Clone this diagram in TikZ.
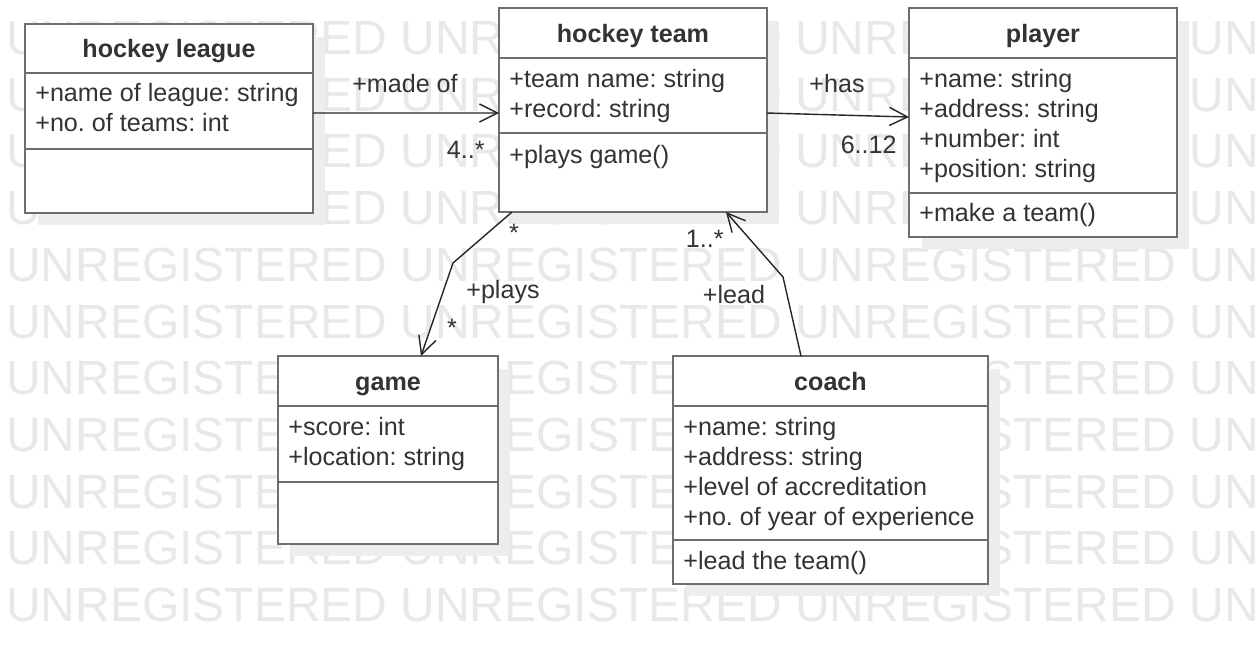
\documentclass[tikz,border=0pt]{standalone}
\usepackage{fontspec}
\setmainfont{Liberation Sans}
\usetikzlibrary{arrows.meta,shadows}
\definecolor{boxgray}{HTML}{6E6E6E}
\definecolor{textgray}{HTML}{333333}
\definecolor{shadowgray}{HTML}{EDEDED}
\definecolor{markgray}{HTML}{E8E8E8}
\frenchspacing
\tikzset{
	classbox/.style  = {draw=boxgray, line width=0.055cm, fill=white, rectangle,
		inner sep=0pt, outer sep=0pt,
		drop shadow={shadow xshift=0.25cm, shadow yshift=-0.25cm, fill=shadowgray, opacity=1}},
	divider/.style   = {draw=boxgray, line width=0.05cm},
	classname/.style = {anchor=base, inner sep=0pt, text=textgray,
		font=\fontsize{14.3}{17.07}\selectfont\bfseries},
	members/.style   = {anchor=base west, inner sep=0pt, align=left, text=textgray,
		font=\fontsize{14.3}{17.07}\selectfont},
	rolelabel/.style = {inner sep=0pt, text=textgray, font=\fontsize{14.3}{17.07}\selectfont},
	assoc/.style     = {->, line width=0.028cm, draw=black!85},
	watermark/.style = {anchor=west, inner sep=0pt, text=markgray,
		font=\fontsize{27.3}{30}\selectfont}
}
\newcommand{\wmtext}{UNREGISTERED UNREGISTERED UNREGISTERED UNREGISTERED}

\begin{document}
\begin{tikzpicture}[x=0.02cm, y=-0.02cm, >={Straight Barb[length=0.36cm,width=0.36cm]}]
	\useasboundingbox (0,0) rectangle (1258,647);
	\clip (0,0) rectangle (1258,647);
	\fill[white] (0,0) rectangle (1258,647);
	
	% watermark rows
	\draw
	node at (6,38) [watermark] (wm1) {\wmtext}
	node at (6,94.7) [watermark] (wm2) {\wmtext}
	node at (6,151.4) [watermark] (wm3) {\wmtext}
	node at (6,208.1) [watermark] (wm4) {\wmtext}
	node at (6,264.8) [watermark] (wm5) {\wmtext}
	node at (6,321.5) [watermark] (wm6) {\wmtext}
	node at (6,378.2) [watermark] (wm7) {\wmtext}
	node at (6,434.9) [watermark] (wm8) {\wmtext}
	node at (6,491.6) [watermark] (wm9) {\wmtext}
	node at (6,548.3) [watermark] (wm10) {\wmtext}
	node at (6,605) [watermark] (wm11) {\wmtext};
	
	% classes
	\draw
	node at (169,118.5) [classbox, minimum width=5.76cm, minimum height=3.78cm] (league) {}
	node at (633,110) [classbox, minimum width=5.36cm, minimum height=4.08cm] (team) {}
	node at (1043,122.5) [classbox, minimum width=5.36cm, minimum height=4.58cm] (player) {}
	node at (388,450) [classbox, minimum width=4.40cm, minimum height=3.76cm] (game) {}
	node at (830.5,470) [classbox, minimum width=6.30cm, minimum height=4.56cm] (coach) {};
	
	\draw[divider] (league.west |- 0,73) -- (league.east |- 0,73);
	\draw[divider] (league.west |- 0,149) -- (league.east |- 0,149);
	\draw[divider] (team.west |- 0,58) -- (team.east |- 0,58);
	\draw[divider] (team.west |- 0,133) -- (team.east |- 0,133);
	\draw[divider] (player.west |- 0,58) -- (player.east |- 0,58);
	\draw[divider] (player.west |- 0,193) -- (player.east |- 0,193);
	\draw[divider] (game.west |- 0,406) -- (game.east |- 0,406);
	\draw[divider] (game.west |- 0,482) -- (game.east |- 0,482);
	\draw[divider] (coach.west |- 0,406) -- (coach.east |- 0,406);
	\draw[divider] (coach.west |- 0,540) -- (coach.east |- 0,540);
	
	% texts (base anchor = last line)
	\draw
	node at (169,57) [classname] (leaguename) {hockey league}
	node at (35,131) [members] (leagueattr) {+name of league: string\\+no. of teams: int}
	node at (633,42) [classname] (teamname) {hockey team}
	node at (509,117) [members] (teamattr) {+team name: string\\+record: string}
	node at (509,163) [members] (teamops) {+plays game()}
	node at (1043,42) [classname] (playername) {player}
	node at (919,177) [members] (playerattr) {+name: string\\+address: string\\+number: int\\+position: string}
	node at (919,221) [members] (playerops) {+make a team()}
	node at (388,390) [classname] (gamename) {game}
	node at (288,465) [members] (gameattr) {+score: int\\+location: string}
	node at (830.5,390) [classname] (coachname) {coach}
	node at (683,525) [members] (coachattr) {+name: string\\+address: string\\+level of accreditation\\+no. of year of experience}
	node at (683,569) [members] (coachops) {+lead the team()};
	
	% associations
	\coordinate (playsbend) at (453,263);
	\coordinate (leadbend) at (783,277);
	\draw[assoc] ([yshift=0.11cm]league.east) -- ([yshift=-0.06cm]team.west);
	\draw[assoc] ([yshift=-0.06cm]team.east) -- ([yshift=0.11cm]player.west);
	\draw[assoc] ([xshift=-2.42cm]team.south) -- (playsbend) -- ([xshift=0.66cm]game.north);
	\draw[assoc] ([xshift=-0.59cm]coach.north) -- (leadbend) -- ([xshift=1.86cm]team.south);
	
	\draw
	node at (405,92) [rolelabel, anchor=base] (madeof) {+made of}
	node at (485,158) [rolelabel, anchor=base east] (madeofmult) {4..*}
	node at (837,92) [rolelabel, anchor=base] (has) {+has}
	node at (897,153) [rolelabel, anchor=base east] (hasmult) {6..12}
	node at (514,233) [rolelabel] (playsfrom) {*}
	node at (503,298) [rolelabel, anchor=base] (plays) {+plays}
	node at (452,328) [rolelabel] (playsto) {*}
	node at (724,247) [rolelabel, anchor=base east] (leadmult) {1..*}
	node at (734,303) [rolelabel, anchor=base] (lead) {+lead};
	
\end{tikzpicture}
\end{document}
